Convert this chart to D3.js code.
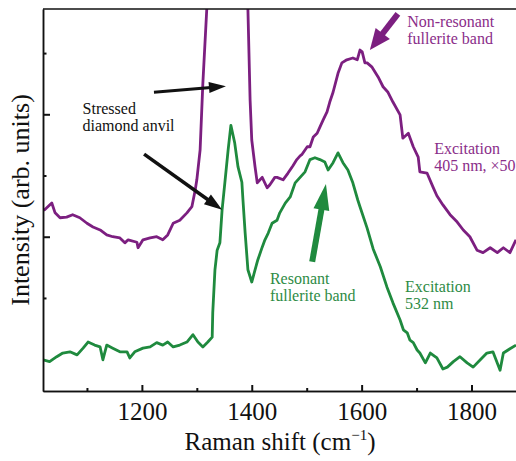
<!DOCTYPE html>
<html>
<head>
<meta charset="utf-8">
<title>Raman shift spectra</title>
<script src="https://cdn.jsdelivr.net/npm/d3@7"></script>
<style>
  body { margin: 0; background: #fff; }
  svg text { font-family: 'Liberation Serif', 'DejaVu Serif', serif !important; }
</style>
</head>
<body>
<script>
  // excitation 405 nm (x50), violet trace
  var shift405 = [1020, 1023, 1036, 1042, 1051, 1063, 1074, 1087, 1100, 1111, 1124, 1136, 1147, 1160, 1169, 1175,
    1191, 1193, 1202, 1215, 1227, 1238, 1247, 1257, 1269, 1282, 1291, 1297, 1300, 1306, 1311, 1318, 1324, 1353,
    1389, 1393, 1397, 1400, 1406, 1410, 1415, 1419, 1428, 1433, 1442, 1446, 1457, 1466, 1475, 1482, 1488, 1491,
    1501, 1506, 1512, 1519, 1524, 1530, 1537, 1542, 1548, 1557, 1564, 1573, 1584, 1592, 1597, 1601, 1606, 1610,
    1619, 1630, 1639, 1648, 1657, 1670, 1675, 1685, 1694, 1703, 1706, 1719, 1730, 1737, 1748, 1761, 1774, 1785,
    1797, 1810, 1821, 1834, 1847, 1858, 1870, 1881];
  var intensity405 = [2.44, 2.44, 2.55, 2.39, 2.31, 2.32, 2.36, 2.31, 2.22, 2.16, 2.11, 2.03, 2.00, 1.98, 1.90, 1.95,
    1.91, 1.82, 1.95, 1.98, 2.00, 1.95, 2.03, 2.22, 2.27, 2.39, 2.49, 2.76, 2.93, 3.42, 4.51, 5.70, 6.60, 9.95,
    6.60, 5.72, 4.23, 3.58, 3.14, 2.88, 2.93, 2.97, 2.80, 2.85, 2.97, 2.97, 2.93, 3.04, 3.16, 3.26, 3.32, 3.34,
    3.47, 3.47, 3.63, 3.69, 3.79, 3.91, 4.04, 4.20, 4.36, 4.67, 4.84, 4.89, 4.92, 4.89, 5.05, 5.02, 4.84, 4.84,
    4.77, 4.61, 4.45, 4.36, 4.20, 3.99, 3.61, 3.69, 3.47, 3.30, 3.06, 3.04, 2.81, 2.67, 2.52, 2.36, 2.24, 2.11,
    2.00, 1.78, 1.74, 1.82, 1.74, 1.82, 1.74, 1.95];

  // excitation 532 nm, green trace
  var shift532 = [1020, 1032, 1045, 1056, 1069, 1082, 1093, 1102, 1114, 1124, 1129, 1136, 1147, 1160, 1173, 1178,
    1187, 1202, 1215, 1227, 1238, 1247, 1257, 1269, 1282, 1293, 1302, 1311, 1320, 1328, 1329, 1333, 1337, 1342,
    1346, 1351, 1357, 1362, 1369, 1375, 1382, 1384, 1388, 1393, 1400, 1406, 1411, 1419, 1424, 1430, 1437, 1446,
    1451, 1461, 1470, 1479, 1488, 1497, 1506, 1515, 1524, 1533, 1539, 1548, 1557, 1566, 1575, 1584, 1593, 1597,
    1610, 1621, 1634, 1646, 1657, 1670, 1676, 1683, 1688, 1694, 1701, 1706, 1716, 1725, 1737, 1748, 1756, 1767,
    1779, 1792, 1803, 1816, 1828, 1839, 1852, 1858, 1870, 1881];
  var intensity532 = [-0.01, -0.04, 0.04, 0.10, 0.12, 0.07, 0.18, 0.28, 0.23, 0.20, -0.01, 0.23, 0.18, 0.12, 0.12, 0.02,
    0.12, 0.18, 0.20, 0.27, 0.23, 0.28, 0.20, 0.23, 0.28, 0.40, 0.28, 0.20, 0.28, 0.36, 0.76, 1.46, 1.78, 1.90,
    2.44, 2.88, 3.42, 3.82, 3.53, 3.14, 2.89, 2.60, 2.06, 1.46, 1.26, 1.46, 1.62, 1.83, 1.95, 2.06, 2.22, 2.27,
    2.39, 2.55, 2.65, 2.88, 2.97, 3.06, 3.26, 3.29, 3.26, 3.22, 3.09, 3.21, 3.37, 3.21, 3.09, 2.88, 2.60, 2.49,
    2.14, 1.80, 1.51, 1.18, 0.92, 0.64, 0.48, 0.43, 0.31, 0.27, 0.15, 0.10, -0.06, 0.10, 0.02, -0.16, -0.13, -0.04,
    0.04, -0.06, -0.13, -0.01, 0.10, 0.12, -0.18, 0.10, 0.17, 0.23];

  var majorTicksX = [1200, 1400, 1600, 1800];
  var minorTicksX = [1100, 1300, 1500, 1700];
  var majorTicksY = [2, 4];
  var minorTicksY = [1, 3, 5];

  var width = 516,
    height = 461,
    plotLeft = 43,
    plotRight = 516,
    plotTop = 9,
    plotBottom = 391,
    serif = 'Liberation Serif, DejaVu Serif, serif',
    violet = '#7c1f80',
    violetText = '#8a2d89',
    green = '#1f8a3e',
    greenText = '#2e8b45';

  var x = d3.scaleLinear().domain([1020, 1881]).range([plotLeft, plotRight]);
  var y = d3.scaleLinear().domain([-0.52, 5.72]).range([plotBottom, plotTop]);

  var svg = d3.select('body').append('svg')
    .attr('width', width)
    .attr('height', height);

  svg.append('clipPath').attr('id', 'plot-clip')
    .append('rect')
    .attr('x', plotLeft).attr('y', plotTop)
    .attr('width', plotRight - plotLeft).attr('height', plotBottom - plotTop);

  var line = d3.line()
    .x(function (d) { return x(d[0]); })
    .y(function (d) { return y(d[1]); });

  function drawTrace(xs, ys, colour) {
    svg.append('path')
      .datum(d3.zip(xs, ys))
      .attr('clip-path', 'url(#plot-clip)')
      .attr('fill', 'none')
      .attr('stroke', colour)
      .attr('stroke-width', 2.8)
      .attr('stroke-linejoin', 'round')
      .attr('d', line);
  }

  drawTrace(shift405, intensity405, violet);
  drawTrace(shift532, intensity532, green);

  // axes: ticks point into the plot
  var xMinor = svg.append('g')
    .attr('transform', 'translate(0,' + plotBottom + ')')
    .call(d3.axisBottom(x).tickValues(minorTicksX).tickSize(-3).tickSizeOuter(0).tickFormat(''));
  var xMajor = svg.append('g')
    .attr('transform', 'translate(0,' + plotBottom + ')')
    .call(d3.axisBottom(x).tickValues(majorTicksX).tickSize(-6).tickSizeOuter(0)
      .tickPadding(11).tickFormat(d3.format('d')));
  var yMinor = svg.append('g')
    .attr('transform', 'translate(' + plotLeft + ',0)')
    .call(d3.axisLeft(y).tickValues(minorTicksY).tickSize(-3.5).tickSizeOuter(0).tickFormat(''));
  var yMajor = svg.append('g')
    .attr('transform', 'translate(' + plotLeft + ',0)')
    .call(d3.axisLeft(y).tickValues(majorTicksY).tickSize(-7).tickSizeOuter(0).tickFormat(''));

  [xMinor, xMajor, yMinor, yMajor].forEach(function (g) {
    g.attr('font-family', serif);
    g.select('.domain').attr('stroke', '#111').attr('stroke-width', 1.5);
    g.selectAll('.tick line').attr('stroke', '#111').attr('stroke-width', 2);
  });
  xMajor.selectAll('.tick text')
    .attr('fill', '#111')
    .attr('font-size', 25);

  svg.append('line')
    .attr('x1', plotLeft).attr('x2', plotRight)
    .attr('y1', plotTop).attr('y2', plotTop)
    .attr('stroke', '#111').attr('stroke-width', 1.5);

  // axis titles
  var xTitle = svg.append('text')
    .attr('x', 280).attr('y', 450)
    .attr('text-anchor', 'middle')
    .attr('font-family', serif).attr('font-size', 25).attr('fill', '#111');
  xTitle.append('tspan').text('Raman shift (cm');
  xTitle.append('tspan').attr('font-size', 15).attr('dy', -10).text('\u22121');
  xTitle.append('tspan').attr('dy', 10).text(')');

  svg.append('text')
    .attr('transform', 'translate(29,200) rotate(-90)')
    .attr('text-anchor', 'middle')
    .attr('font-family', serif).attr('font-size', 26).attr('fill', '#111')
    .text('Intensity (arb. units)');

  // annotations, placed in data units
  function arrow(from, to, colour, shaft, headLen, headWidth) {
    var x1 = x(from[0]), y1 = y(from[1]), x2 = x(to[0]), y2 = y(to[1]);
    var dx = x2 - x1, dy = y2 - y1, len = Math.sqrt(dx * dx + dy * dy);
    var ux = dx / len, uy = dy / len;
    var bx = x2 - ux * headLen, by = y2 - uy * headLen;
    svg.append('line')
      .attr('x1', x1).attr('y1', y1)
      .attr('x2', bx + ux * 2).attr('y2', by + uy * 2)
      .attr('stroke', colour).attr('stroke-width', shaft);
    svg.append('path')
      .attr('d', 'M' + x2 + ',' + y2 +
        'L' + (bx - uy * headWidth / 2) + ',' + (by + ux * headWidth / 2) +
        'L' + (bx + uy * headWidth / 2) + ',' + (by - ux * headWidth / 2) + 'Z')
      .attr('fill', colour);
  }

  function label(pos, lines, colour) {
    var t = svg.append('text')
      .attr('font-family', serif).attr('font-size', 16).attr('fill', colour);
    lines.forEach(function (s, i) {
      t.append('tspan')
        .attr('x', x(pos[0]))
        .attr('y', y(pos[1]) + i * 17)
        .text(s);
    });
  }

  arrow([1222, 4.36], [1353, 4.46], '#111', 3, 17, 11);
  arrow([1204, 3.35], [1346, 2.44], '#111', 3.5, 18, 12);
  arrow([1666, 5.64], [1615, 5.05], violet, 6, 21, 18);
  arrow([1510, 1.59], [1535, 2.86], green, 6, 26, 16);

  label([1092, 4.00], ['Stressed', 'diamond anvil'], '#111');
  label([1683, 5.43], ['Non-resonant', 'fullerite band'], violetText);
  label([1732, 3.35], ['Excitation', '405 nm, \u00d750'], violetText);
  label([1433, 1.23], ['Resonant', 'fullerite band'], greenText);
  label([1679, 1.10], ['Excitation', '532 nm'], greenText);
</script>
</body>
</html>
